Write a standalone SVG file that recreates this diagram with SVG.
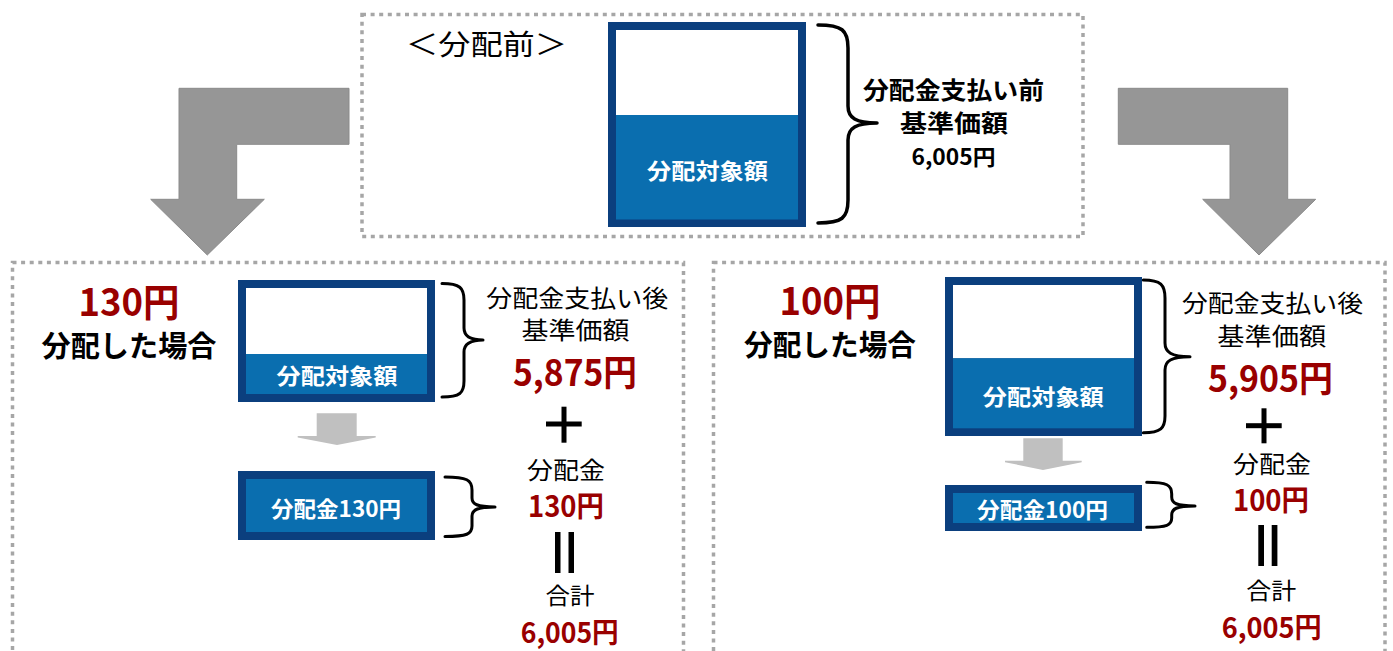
<svg xmlns="http://www.w3.org/2000/svg" width="1393" height="651" viewBox="0 0 1393 651">
<style>
.dash{fill:none;stroke:#a6a6a6;stroke-width:3.5;stroke-dasharray:4 4.6}
.frame{fill:#0b3f7e}
.white{fill:#ffffff}
.blue{fill:#0a6eaf}
.big{fill:#969696;stroke:#8a8a8a;stroke-width:1}
.small{fill:#c0c0c0}
.brace{fill:none;stroke:#000;stroke-width:3.5;stroke-linecap:round;stroke-linejoin:round}
.brace2{fill:none;stroke:#000;stroke-width:3;stroke-linecap:round;stroke-linejoin:round}
.sym{fill:#000}
text{font-family:"Noto Sans CJK JP","Noto Sans",sans-serif;text-anchor:middle}
.b{font-weight:bold}
.w{fill:#ffffff;font-weight:bold;font-size:22px}
.k{fill:#000}
.r{fill:#990000;font-weight:bold}
</style>

<g id="panels">
  <rect class="dash" x="362" y="14.5" width="721" height="222"/>
  <rect class="dash" x="12.5" y="262.5" width="671" height="400"/>
  <rect class="dash" x="713.5" y="262.5" width="671.5" height="400"/>
</g>

<g id="connectors">
  <polygon class="big" points="349,88.3 179,88.3 179,199.3 150.7,199.3 207.3,255 264.3,199.3 236.7,199.3 236.7,144.3 349,144.3"/>
  <polygon class="big" points="1118.3,88.3 1287.7,88.3 1287.7,199.3 1315.7,199.3 1259,255 1202.7,199.3 1230,199.3 1230,144.3 1118.3,144.3"/>
  <polygon class="small" points="316.7,413.3 356.7,413.3 356.7,436 375.7,436 375.7,437.5 337,445 297.7,437.5 297.7,436 316.7,436"/>
  <polygon class="small" points="1023.3,438.3 1062.7,438.3 1062.7,460.7 1081.7,460.7 1081.7,462.2 1043,470 1005,462.2 1005,460.7 1023.3,460.7"/>
</g>

<g id="braces">
  <path class="brace" d="M818,25 C842,25 848,30 848,48 L848,106 C848,118 856,123 877,123 C856,123 848,128 848,140 L848,200 C848,218 842,223 818,223"/>
  <path class="brace2" d="M442,283.5 C460,283.5 464,288 464,300 L464,328 C464,336 470,340 483,340 C470,340 464,344 464,352 L464,381 C464,393 460,397 442,397"/>
  <path class="brace2" d="M445,477 C467,477 472,480 472,490 L472,498 C472,504 477,507 495,507 C477,507 472,510 472,516 L472,526 C472,534 467,536.5 445,536.5"/>
  <path class="brace2" d="M1143.3,280 C1161,280 1165,285 1165,298 L1165,343 C1165,352 1171,356.7 1190,356.7 C1171,356.7 1165,361 1165,370 L1165,416 C1165,428 1161,432.7 1143.3,432.7"/>
  <path class="brace2" d="M1146.7,482.3 C1167,482.3 1171.7,485 1171.7,494 L1171.7,497 C1171.7,503 1176,506 1195,506 C1176,506 1171.7,509 1171.7,515 L1171.7,518 C1171.7,525 1167,527.3 1146.7,527.3"/>
</g>

<g id="node-before">
  <text class="k" x="406" y="55" font-size="28" style="text-anchor:start" textLength="161" lengthAdjust="spacingAndGlyphs">＜分配前＞</text>
  <rect class="frame" x="608" y="22" width="198" height="205"/>
  <rect class="white" x="616" y="30" width="182" height="85"/>
  <rect class="blue" x="616" y="115" width="182" height="104.5"/>
  <text class="w" x="707.5" y="179" textLength="121" lengthAdjust="spacingAndGlyphs">分配対象額</text>
  <text class="k b" x="953.5" y="98.5" font-size="24" textLength="181" lengthAdjust="spacingAndGlyphs">分配金支払い前</text>
  <text class="k b" x="954" y="131.5" font-size="24" textLength="108" lengthAdjust="spacingAndGlyphs">基準価額</text>
  <text class="k b" x="953.5" y="164.5" font-size="22" textLength="84" lengthAdjust="spacingAndGlyphs">6,005円</text>
</g>

<g id="node-130">
  <text class="r" x="129" y="316" font-size="38" textLength="101" lengthAdjust="spacingAndGlyphs">130円</text>
  <text class="k b" x="129" y="356.5" font-size="29" textLength="175" lengthAdjust="spacingAndGlyphs">分配した場合</text>
  <rect class="frame" x="238" y="280" width="197" height="122"/>
  <rect class="white" x="246" y="288" width="181" height="66"/>
  <rect class="blue" x="246" y="354" width="181" height="40"/>
  <text class="w" x="337" y="383.5" textLength="121" lengthAdjust="spacingAndGlyphs">分配対象額</text>
  <rect class="frame" x="238" y="471" width="197" height="69"/>
  <rect class="blue" x="246" y="479" width="181" height="53"/>
  <text class="w" x="336" y="517" textLength="130" lengthAdjust="spacingAndGlyphs">分配金130円</text>
  <text class="k" x="577.2" y="306.7" font-size="24" textLength="182" lengthAdjust="spacingAndGlyphs">分配金支払い後</text>
  <text class="k" x="575.5" y="339" font-size="24" textLength="108" lengthAdjust="spacingAndGlyphs">基準価額</text>
  <text class="r" x="575" y="386" font-size="36" textLength="124" lengthAdjust="spacingAndGlyphs">5,875円</text>
  <rect class="sym" x="561.5" y="406.7" width="5" height="36"/>
  <rect class="sym" x="546" y="421.5" width="35.7" height="5"/>
  <text class="k" x="566" y="479" font-size="24" textLength="78" lengthAdjust="spacingAndGlyphs">分配金</text>
  <text class="r" x="566" y="516.5" font-size="29" textLength="76" lengthAdjust="spacingAndGlyphs">130円</text>
  <rect class="sym" x="555" y="532" width="5.5" height="41"/>
  <rect class="sym" x="568.5" y="532" width="5.5" height="41"/>
  <text class="k" x="570" y="603.5" font-size="23" textLength="49" lengthAdjust="spacingAndGlyphs">合計</text>
  <text class="r" x="569.7" y="643" font-size="28" textLength="98" lengthAdjust="spacingAndGlyphs">6,005円</text>
</g>

<g id="node-100">
  <text class="r" x="830" y="315" font-size="38" textLength="101" lengthAdjust="spacingAndGlyphs">100円</text>
  <text class="k b" x="830" y="355.5" font-size="29" textLength="172" lengthAdjust="spacingAndGlyphs">分配した場合</text>
  <rect class="frame" x="945" y="277" width="197" height="159"/>
  <rect class="white" x="953" y="285" width="181" height="73.3"/>
  <rect class="blue" x="953" y="358.3" width="181" height="70"/>
  <text class="w" x="1043.3" y="405.2" textLength="121" lengthAdjust="spacingAndGlyphs">分配対象額</text>
  <rect class="frame" x="945" y="485" width="197" height="46"/>
  <rect class="blue" x="953" y="493" width="181" height="30"/>
  <text class="w" x="1042.5" y="518" textLength="131" lengthAdjust="spacingAndGlyphs">分配金100円</text>
  <text class="k" x="1272.5" y="311.7" font-size="24" textLength="181" lengthAdjust="spacingAndGlyphs">分配金支払い後</text>
  <text class="k" x="1271.7" y="344.5" font-size="24" textLength="109" lengthAdjust="spacingAndGlyphs">基準価額</text>
  <text class="r" x="1270.5" y="391.5" font-size="36" textLength="125" lengthAdjust="spacingAndGlyphs">5,905円</text>
  <rect class="sym" x="1261.5" y="408.3" width="5" height="35"/>
  <rect class="sym" x="1246" y="423.2" width="35.7" height="5"/>
  <text class="k" x="1272" y="472.5" font-size="24" textLength="78" lengthAdjust="spacingAndGlyphs">分配金</text>
  <text class="r" x="1271" y="510.5" font-size="29" textLength="76" lengthAdjust="spacingAndGlyphs">100円</text>
  <rect class="sym" x="1258.3" y="525" width="5.7" height="41"/>
  <rect class="sym" x="1271.7" y="525" width="5.7" height="41"/>
  <text class="k" x="1271.3" y="598.5" font-size="23" textLength="50" lengthAdjust="spacingAndGlyphs">合計</text>
  <text class="r" x="1271.7" y="638" font-size="28" textLength="100" lengthAdjust="spacingAndGlyphs">6,005円</text>
</g>
</svg>
